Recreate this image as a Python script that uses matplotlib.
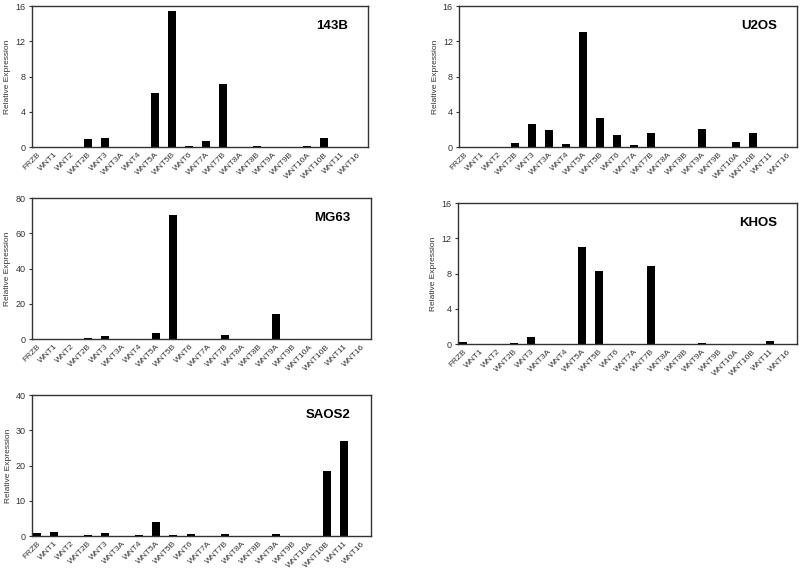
import numpy as np
import matplotlib
matplotlib.use("Agg")
import matplotlib.pyplot as plt

plt.rcParams["font.family"] = ["Liberation Sans", "DejaVu Sans"]

genes = ["FRZB", "WNT1", "WNT2", "WNT2B", "WNT3", "WNT3A", "WNT4", "WNT5A",
         "WNT5B", "WNT6", "WNT7A", "WNT7B", "WNT8A", "WNT8B", "WNT9A", "WNT9B",
         "WNT10A", "WNT10B", "WNT11", "WNT16"]

# relative expression per cell line
v_143b = [0.05, 0, 0, 0.9, 1.03, 0, 0.05, 6.1, 15.4, 0.1, 0.65, 7.15,
          0, 0.1, 0.05, 0, 0.15, 1.0, 0.05, 0.05]
v_u2os = [0.05, 0, 0, 0.5, 2.65, 1.9, 0.38, 13.1, 3.33, 1.4, 0.2, 1.63,
          0, 0, 2.05, 0, 0.6, 1.63, 0.05, 0]
v_mg63 = [0, 0, 0, 0.3, 1.6, 0, 0, 3.4, 70.5, 0, 0, 2.3,
          0, 0, 14.4, 0, 0, 0, 0, 0]
v_khos = [0.23, 0, 0, 0.12, 0.76, 0, 0.05, 11.05, 8.3, 0, 0, 8.84,
          0, 0, 0.1, 0, 0, 0.05, 0.3, 0]
v_saos2 = [0.85, 1.0, 0, 0.2, 0.85, 0, 0.2, 4.1, 0.4, 0.6, 0, 0.6,
           0, 0, 0.7, 0, 0, 18.4, 27.0, 0]

panels = [
    ("143B", v_143b, 16, 4, [0.040, 0.743, 0.420, 0.2465]),
    ("U2OS", v_u2os, 16, 4, [0.574, 0.743, 0.4225, 0.2465]),
    ("MG63", v_mg63, 80, 20, [0.040, 0.4073, 0.424, 0.2465]),
    ("KHOS", v_khos, 16, 4, [0.5725, 0.3986, 0.424, 0.2465]),
    ("SAOS2", v_saos2, 40, 10, [0.040, 0.0629, 0.424, 0.2465]),
]

fig = plt.figure(figsize=(8, 5.72), dpi=100)
x = np.arange(len(genes))

for name, vals, ymax, step, rect in panels:
    ax = fig.add_axes(rect)
    ax.bar(x, vals, width=0.47, color="black")
    ax.set_xlim(-0.3, len(genes) - 0.4)
    ax.set_ylim(0, ymax)
    ax.set_yticks(np.arange(0, ymax + 1, step))
    ax.set_xticks(x)
    ax.set_xticklabels(genes, rotation=45, ha="right", rotation_mode="anchor",
                       fontsize=6, color="#333333")
    ax.tick_params(axis="x", length=0, pad=3)
    ax.tick_params(axis="y", length=2.5, width=0.8, labelsize=6.5, colors="#333333", pad=2)
    ax.set_ylabel("Relative Expression", fontsize=6, color="#333333", labelpad=3)
    for s in ax.spines.values():
        s.set_color("#333333")
        s.set_linewidth(1.0)
    ax.text(0.94, 0.86, name, transform=ax.transAxes, ha="right", va="center",
            fontsize=9.5, fontweight="bold")

fig.savefig("out.png", dpi=100)
